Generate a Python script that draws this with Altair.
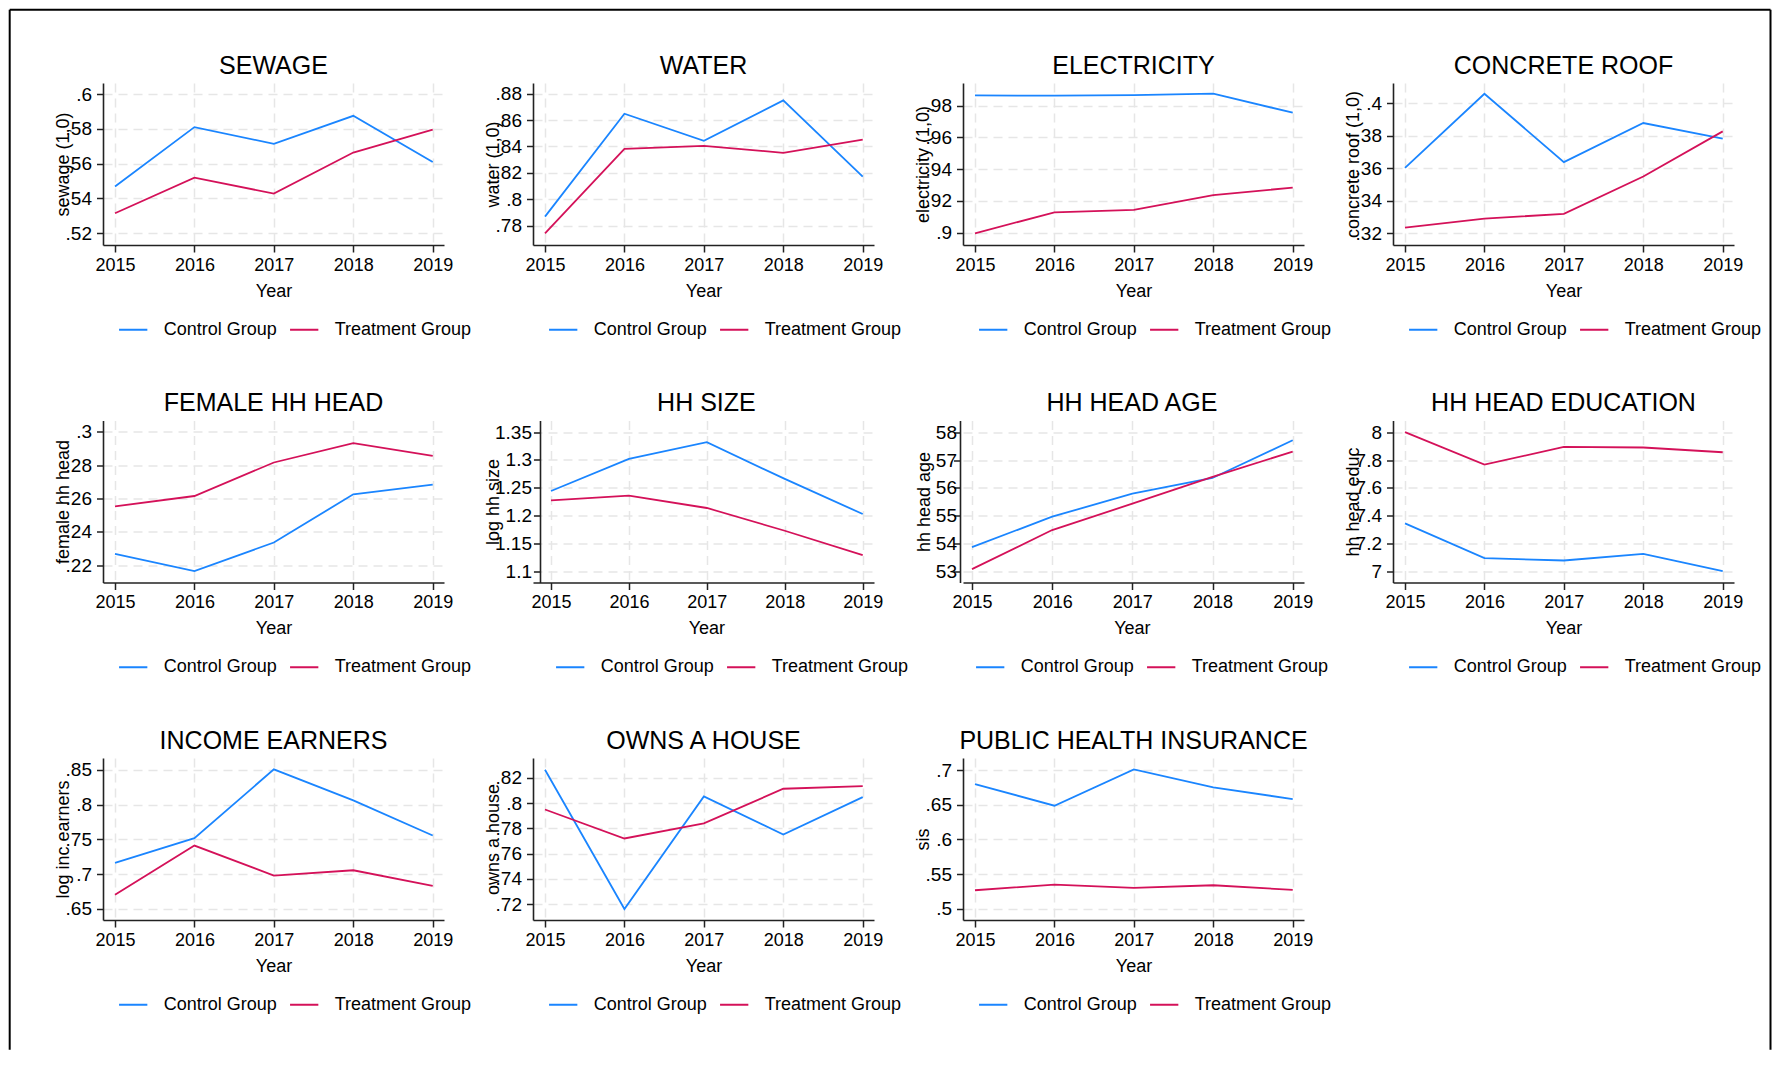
import altair as alt
import pandas as pd

# ---------------- data ----------------
YEARS = [2015, 2016, 2017, 2018, 2019]
GROUPS = ["Control Group", "Treatment Group"]
COLORS = ["#1a85ff", "#d41159"]

TITLES = ["SEWAGE", "WATER", "ELECTRICITY", "CONCRETE ROOF",
          "FEMALE HH HEAD", "HH SIZE", "HH HEAD AGE", "HH HEAD EDUCATION",
          "INCOME EARNERS", "OWNS A HOUSE", "PUBLIC HEALTH INSURANCE"]
Y_TITLES = ["sewage (1,0)", "water (1,0)", "electricity (1,0)", "concrete roof (1,0)",
            "female hh head", "log hh size", "hh head age", "hh head educ",
            "log inc earners", "owns a house", "sis"]

SEWAGE_CONTROL = [0.5469, 0.5810, 0.5714, 0.5875, 0.5609]
SEWAGE_TREAT = [0.5315, 0.5520, 0.5428, 0.5664, 0.5795]
WATER_CONTROL = [0.7868, 0.8648, 0.8443, 0.8749, 0.8172]
WATER_TREAT = [0.7742, 0.8382, 0.8405, 0.8352, 0.8451]
ELEC_CONTROL = [0.9865, 0.9863, 0.9867, 0.9876, 0.9756]
ELEC_TREAT = [0.8996, 0.9128, 0.9143, 0.9236, 0.9284]
ROOF_CONTROL = [0.3602, 0.4057, 0.3637, 0.3877, 0.3781]
ROOF_TREAT = [0.3235, 0.3290, 0.3319, 0.3549, 0.3826]
FEMALE_CONTROL = [0.2268, 0.2164, 0.2336, 0.2625, 0.2683]
FEMALE_TREAT = [0.2553, 0.2615, 0.2816, 0.2932, 0.2856]
SIZE_CONTROL = [1.2442, 1.3019, 1.3320, 1.2659, 1.2028]
SIZE_TREAT = [1.2274, 1.2358, 1.2136, 1.1727, 1.1288]
AGE_CONTROL = [53.875, 54.966, 55.794, 56.357, 57.712]
AGE_TREAT = [53.084, 54.487, 55.434, 56.393, 57.305]
EDUC_CONTROL = [7.345, 7.096, 7.079, 7.127, 7.002]
EDUC_TREAT = [8.000, 7.767, 7.894, 7.890, 7.856]
INCOME_CONTROL = [0.7162, 0.7517, 0.8505, 0.8059, 0.7555]
INCOME_TREAT = [0.6706, 0.7411, 0.6980, 0.7056, 0.6831]
HOUSE_CONTROL = [0.8263, 0.7163, 0.8052, 0.7751, 0.8047]
HOUSE_TREAT = [0.7949, 0.7720, 0.7839, 0.8113, 0.8134]
SIS_CONTROL = [0.6798, 0.6486, 0.7010, 0.6750, 0.6582]
SIS_TREAT = [0.5269, 0.5351, 0.5303, 0.5341, 0.5274]

CONTROL = [SEWAGE_CONTROL, WATER_CONTROL, ELEC_CONTROL, ROOF_CONTROL,
           FEMALE_CONTROL, SIZE_CONTROL, AGE_CONTROL, EDUC_CONTROL,
           INCOME_CONTROL, HOUSE_CONTROL, SIS_CONTROL]
TREAT = [SEWAGE_TREAT, WATER_TREAT, ELEC_TREAT, ROOF_TREAT,
         FEMALE_TREAT, SIZE_TREAT, AGE_TREAT, EDUC_TREAT,
         INCOME_TREAT, HOUSE_TREAT, SIS_TREAT]

Y_TICKS = [
    [0.52, 0.54, 0.56, 0.58, 0.6],
    [0.78, 0.8, 0.82, 0.84, 0.86, 0.88],
    [0.9, 0.92, 0.94, 0.96, 0.98],
    [0.32, 0.34, 0.36, 0.38, 0.4],
    [0.22, 0.24, 0.26, 0.28, 0.3],
    [1.1, 1.15, 1.2, 1.25, 1.3, 1.35],
    [53, 54, 55, 56, 57, 58],
    [7, 7.2, 7.4, 7.6, 7.8, 8],
    [0.65, 0.7, 0.75, 0.8, 0.85],
    [0.72, 0.74, 0.76, 0.78, 0.8, 0.82],
    [0.5, 0.55, 0.6, 0.65, 0.7],
]

# ---------------- layout / style ----------------
Y_DOMAINS = [
    [0.51327, 0.60633], [0.7653, 0.8881], [0.8922, 0.9943], [0.3128, 0.4123],
    [0.2096, 0.3068], [1.0796, 1.371], [52.604, 58.42], [6.921, 8.084],
    [0.6342, 0.8668], [0.7076, 0.8356], [0.4841, 0.7173],
]
STD = dict(x0=2014.849, x1=2019.142, yoff=0, ytx=-34.3, xtx=170.5, lx=14.7, tx=170.5, lp=5)
GEOM = [dict(STD) for _ in range(11)]
GEOM[5] = dict(x0=2014.769, x1=2019.145, yoff=-7, ytx=-42, xtx=173.4, lx=21.7, tx=173.4, lp=2)
GEOM[6] = dict(x0=2014.888, x1=2019.141, yoff=3, ytx=-31, xtx=168.9, lx=11.7, tx=168.9, lp=-3)

FONT = "Liberation Sans"
W, H = 341, 162
LABEL_EXPR = "replace(format(datum.value, '.2~f'), '0.', '.')"

# outer frame, relative to first panel's plot origin (total width kept <= page width)
FRAME_L, FRAME_R, FRAME_T, FRAME_B = -93.3, 1667.5, -73.3, 966.7


def make_panel(i):
    g = GEOM[i]
    df = pd.DataFrame({
        "Year": YEARS * 2,
        "value": CONTROL[i] + TREAT[i],
        "group": [GROUPS[0]] * len(YEARS) + [GROUPS[1]] * len(YEARS),
    })
    lines = alt.Chart(df).mark_line(strokeWidth=1.8).encode(
        x=alt.X("Year:Q",
                scale=alt.Scale(domain=[g["x0"], g["x1"]], nice=False, zero=False),
                axis=alt.Axis(values=YEARS, format="d", title="Year",
                              titleX=g["xtx"], titleY=51, titleBaseline="alphabetic",
                              titleAlign="center", labelBaseline="alphabetic",
                              labelPadding=18, labelFlush=False, tickSize=7,
                              labelFontSize=18)),
        y=alt.Y("value:Q",
                scale=alt.Scale(domain=Y_DOMAINS[i], nice=False, zero=False),
                axis=alt.Axis(values=Y_TICKS[i], labelExpr=LABEL_EXPR,
                              title=Y_TITLES[i], titleX=g["ytx"], titleY=H / 2,
                              titleAngle=270, titleAlign="center",
                              titleBaseline="alphabetic", offset=g["yoff"],
                              labelPadding=g["lp"], tickSize=6.5, labelFontSize=19)),
        color=alt.Color("group:N",
                        scale=alt.Scale(domain=GROUPS, range=COLORS),
                        legend=alt.Legend(orient="none", legendX=g["lx"], legendY=231,
                                          direction="horizontal", columns=2, title=None,
                                          symbolType="stroke", symbolSize=800,
                                          symbolStrokeWidth=2, labelFontSize=18,
                                          labelFont=FONT, labelColor="black",
                                          labelOffset=15, columnPadding=8, padding=0,
                                          labelLimit=300)),
    )
    title = alt.Chart(alt.Data(values=[{"t": TITLES[i]}])).mark_text(
        fontSize=25, baseline="alphabetic", align="center", color="black", font=FONT
    ).encode(text="t:N", x=alt.value(g["tx"]), y=alt.value(-9.5))
    layers = [lines, title]
    if i == 0:
        one = alt.Data(values=[{}])
        left = alt.Chart(one).mark_rule(color="black", strokeWidth=2).encode(
            x=alt.value(FRAME_L), y=alt.value(FRAME_T), y2=alt.value(FRAME_B))
        right = alt.Chart(one).mark_rule(color="black", strokeWidth=2).encode(
            x=alt.value(FRAME_R), y=alt.value(FRAME_T), y2=alt.value(FRAME_B))
        top = alt.Chart(one).mark_rule(color="black", strokeWidth=2).encode(
            x=alt.value(FRAME_L), x2=alt.value(FRAME_R), y=alt.value(FRAME_T))
        layers += [left, right, top]
    return alt.layer(*layers).properties(width=W, height=H)


panels = [make_panel(i) for i in range(len(TITLES))]

chart = alt.concat(
    *panels, columns=4, spacing={"row": 175.5, "column": 89}, bounds="flush"
).resolve_scale(color="independent").resolve_legend(color="independent").properties(
    padding=0
).configure(font=FONT, background="white").configure_view(stroke=None).configure_axis(
    gridColor="#e6e6e6", gridDash=[9, 6], gridWidth=1.5,
    domainColor="#222222", domainWidth=1.6, tickColor="#222222", tickWidth=1.5,
    labelFont=FONT, labelFontSize=18, labelColor="black",
    titleFont=FONT, titleFontSize=18, titleColor="black", titleFontWeight="normal",
)

chart.save("out.html", embed_options={"renderer": "svg", "actions": False})
